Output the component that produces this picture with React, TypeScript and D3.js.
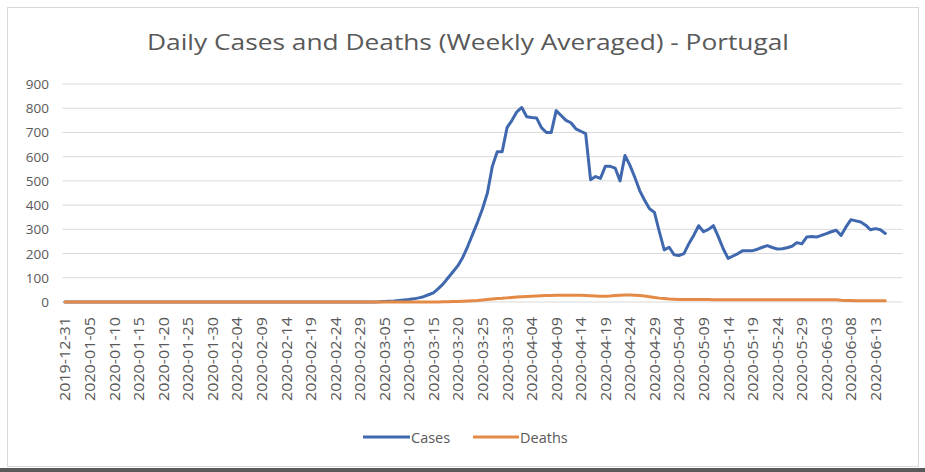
import React from "react";
import * as d3 from "d3";

const START_DATE = "2019-12-31";

const tickLabels = [
  "2019-12-31", "2020-01-05", "2020-01-10", "2020-01-15", "2020-01-20", "2020-01-25",
  "2020-01-30", "2020-02-04", "2020-02-09", "2020-02-14", "2020-02-19", "2020-02-24",
  "2020-02-29", "2020-03-05", "2020-03-10", "2020-03-15", "2020-03-20", "2020-03-25",
  "2020-03-30", "2020-04-04", "2020-04-09", "2020-04-14", "2020-04-19", "2020-04-24",
  "2020-04-29", "2020-05-04", "2020-05-09", "2020-05-14", "2020-05-19", "2020-05-24",
  "2020-05-29", "2020-06-03", "2020-06-08", "2020-06-13",
];

const yTicks = [0, 100, 200, 300, 400, 500, 600, 700, 800, 900];

// daily values starting 2019-12-31
const cases = [
  0, 0, 0, 0, 0, 0, 0, 0, 0, 0,
  0, 0, 0, 0, 0, 0, 0, 0, 0, 0,
  0, 0, 0, 0, 0, 0, 0, 0, 0, 0,
  0, 0, 0, 0, 0, 0, 0, 0, 0, 0,
  0, 0, 0, 0, 0, 0, 0, 0, 0, 0,
  0, 0, 0, 0, 0, 0, 0, 0, 0, 0,
  0, 0, 0.3, 0.5, 1, 2, 3, 4, 6, 8,
  10, 13, 17, 22, 30, 38, 55, 75, 100, 125,
  150, 185, 230, 280, 330, 385, 450, 560, 620, 620,
  720, 750, 785, 803, 765, 762, 760, 720, 700, 700,
  790, 770, 750, 740, 715, 705, 695, 505, 518, 510,
  560, 560, 553, 500, 605, 565, 515, 460, 420, 385,
  370, 290, 215, 226, 195, 192, 200, 240, 275, 315,
  290, 300, 315, 270, 220, 180, 190, 200, 212, 212,
  212, 218, 226, 233, 225, 219, 220, 224, 230, 245,
  240, 268, 270, 268, 275, 282, 290, 296, 275, 310,
  340, 335, 330, 317, 298, 303, 298, 283,
];

const deaths = [
  0, 0, 0, 0, 0, 0, 0, 0, 0, 0,
  0, 0, 0, 0, 0, 0, 0, 0, 0, 0,
  0, 0, 0, 0, 0, 0, 0, 0, 0, 0,
  0, 0, 0, 0, 0, 0, 0, 0, 0, 0,
  0, 0, 0, 0, 0, 0, 0, 0, 0, 0,
  0, 0, 0, 0, 0, 0, 0, 0, 0, 0,
  0, 0, 0, 0, 0, 0, 0, 0, 0, 0,
  0, 0, 0, 0, 0, 0, 0.5, 1, 1, 2,
  2, 3, 4, 5, 6, 8, 10, 12, 14, 15,
  17, 19, 21, 22, 23, 24, 25, 26, 27, 27,
  28, 28, 28, 28, 28, 28, 27, 26, 25, 24,
  24, 25, 27, 28, 29, 29, 28, 27, 25, 22,
  19, 16, 14, 12, 11, 10, 10, 10, 10, 10,
  10, 10, 9, 9, 9, 9, 9, 9, 9, 9,
  9, 9, 9, 9, 9, 9, 9, 9, 9, 9,
  9, 9, 9, 9, 9, 9, 9, 9, 7, 6,
  6, 5, 5, 5, 5, 5, 5, 5,
];

const series = [
  { name: "Cases", values: cases, color: "#4068AE" },
  { name: "Deaths", values: deaths, color: "#E48A47" },
];

const NUM_CATEGORIES = 171;

export default function App() {
  const W = 925, H = 472;
  const parse = d3.timeParse("%Y-%m-%d");
  const start = parse(START_DATE) as Date;
  const dayIndex = (s: string) => d3.timeDay.count(start, parse(s) as Date);

  const x = d3.scaleLinear().domain([-0.5, NUM_CATEGORIES - 0.5]).range([62.5, 902.5]);
  const y = d3.scaleLinear().domain([0, 900]).range([302, 84]);

  const line = d3
    .line<number>()
    .x((_, i) => x(i))
    .y((v) => y(v));

  const textColor = "#595959";
  const tickFont = "'Open Sans', sans-serif";

  return (
    <svg width={W} height={H} style={{ position: "absolute", left: 0, top: 0, background: "#fff" }}>
      <rect x={7.5} y={7.5} width={911} height={459} fill="#fff" stroke="#d9d9d9" />
      <rect x={0} y={468} width={W} height={4} fill="#5a5a5a" />
      <text
        x={468}
        y={50}
        textAnchor="middle"
        fontFamily="'Open Sans', sans-serif"
        fontSize={22}
        fill={textColor}
        textLength={642}
        lengthAdjust="spacingAndGlyphs"
      >
        Daily Cases and Deaths (Weekly Averaged) - Portugal
      </text>

      {yTicks.map((t) => (
        <g key={t}>
          <line x1={62.5} x2={902.5} y1={y(t)} y2={y(t)} stroke="#d9d9d9" strokeWidth={1} />
          <text
            x={49}
            y={y(t)}
            textAnchor="end"
            dominantBaseline="central"
            fontFamily={tickFont}
            fontSize={13.5}
            fill={textColor}
          >
            {t}
          </text>
        </g>
      ))}

      {tickLabels.map((lab) => {
        const xi = x(dayIndex(lab));
        return (
          <text
            key={lab}
            transform={`translate(${xi},317) rotate(-90)`}
            textAnchor="end"
            dominantBaseline="central"
            fontFamily={tickFont}
            fontSize={14}
            fill={textColor}
            textLength={84}
            lengthAdjust="spacingAndGlyphs"
          >
            {lab}
          </text>
        );
      })}

      {series.map((s) => (
        <path
          key={s.name}
          d={line(s.values) || ""}
          fill="none"
          stroke={s.color}
          strokeWidth={3}
          strokeLinejoin="round"
          strokeLinecap="round"
        />
      ))}

      <g>
        <line x1={363} x2={410} y1={437} y2={437} stroke={series[0].color} strokeWidth={3} />
        <text x={411} y={437} dominantBaseline="central" fontFamily={tickFont} fontSize={14.5} fill={textColor}>
          Cases
        </text>
        <line x1={473} x2={519} y1={437} y2={437} stroke={series[1].color} strokeWidth={3} />
        <text x={520} y={437} dominantBaseline="central" fontFamily={tickFont} fontSize={14.5} fill={textColor}>
          Deaths
        </text>
      </g>
    </svg>
  );
}
